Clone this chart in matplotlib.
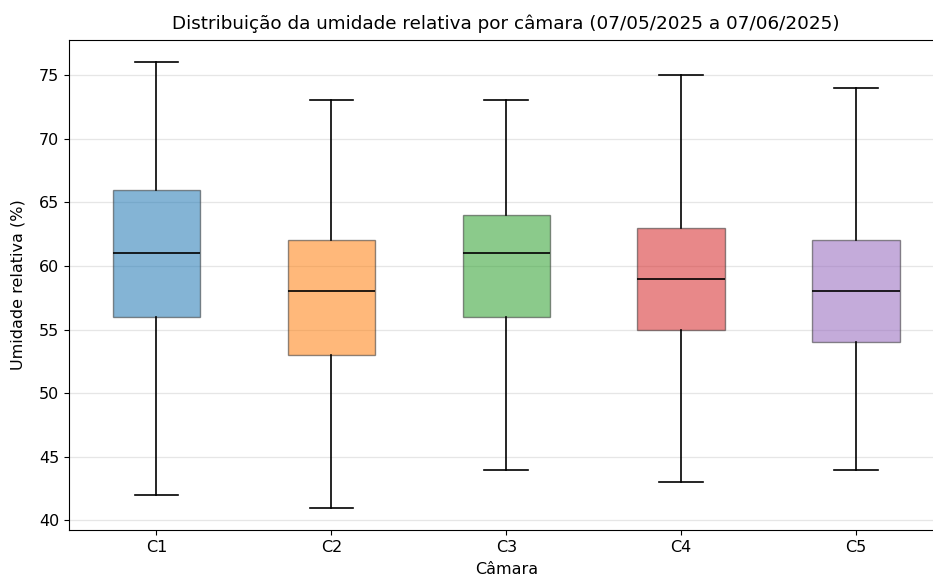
import matplotlib
matplotlib.use("Agg")
import matplotlib.pyplot as plt

# ------------------------------------
# Dados
# ------------------------------------
camaras = ["C1", "C2", "C3", "C4", "C5"]
minimo = [42, 41, 44, 43, 44]
q1 = [56, 53, 56, 55, 54]
mediana = [61, 58, 61, 59, 58]
q3 = [66, 62, 64, 63, 62]
maximo = [76, 73, 73, 75, 74]

cores = ["#1f77b4", "#ff7f0e", "#2ca02c", "#d62728", "#9467bd"]

stats = []
for i, nome in enumerate(camaras):
    stats.append({
        "label": nome,
        "whislo": minimo[i],
        "q1": q1[i],
        "med": mediana[i],
        "q3": q3[i],
        "whishi": maximo[i],
        "fliers": [],
    })

fig = plt.figure(figsize=(9.33, 5.78), dpi=100)
# o eixo vai um pouco além da borda direita, como no original
ax = fig.add_axes([0.074, 0.083, 1.0113 - 0.074, 0.9308 - 0.083])

bp = ax.bxp(stats, patch_artist=True, widths=0.5, showfliers=False,
            medianprops=dict(color="black", linewidth=1.2),
            whiskerprops=dict(color="black", linewidth=1.2),
            capprops=dict(color="black", linewidth=1.2),
            boxprops=dict(edgecolor="#333333", linewidth=1.0))

for patch, cor in zip(bp["boxes"], cores):
    patch.set_facecolor(cor)
    patch.set_alpha(0.55)
    patch.set_edgecolor("#333333")

ax.set_title("Distribuição da umidade relativa por câmara (07/05/2025 a 07/06/2025)",
             fontsize=13.2, pad=8)
ax.set_xlabel("Câmara", fontsize=11.5, labelpad=5.5)
ax.set_ylabel("Umidade relativa (%)", fontsize=11.5, labelpad=10)
ax.tick_params(labelsize=11.5)
ax.grid(axis="y", color="#e6e6e6", linewidth=0.9)
ax.set_axisbelow(True)
ax.spines["right"].set_visible(False)

plt.savefig("out.png")
plt.close()
